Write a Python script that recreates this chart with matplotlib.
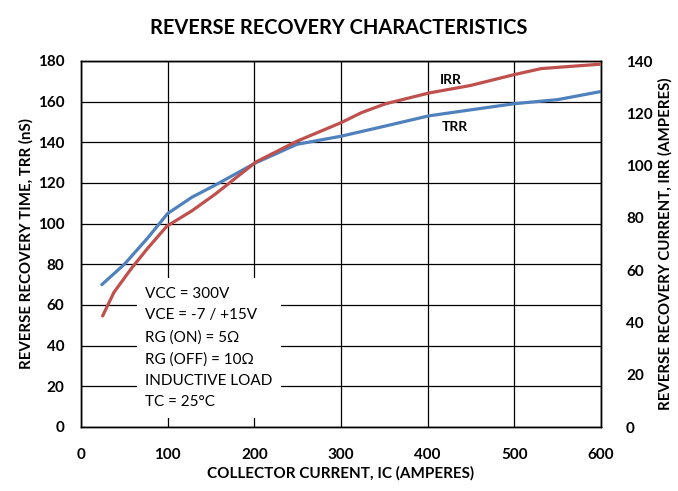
"""Reverse recovery characteristics: TRR and IRR against collector current."""
import matplotlib.pyplot as plt

plt.rcParams['font.family'] = ['Lato', 'DejaVu Sans']

# TRR curve (left axis, nS)
ic_trr = [24, 50, 77, 100, 128, 155, 202, 249, 300, 351, 401, 450, 500, 550, 600]
trr = [70, 80, 93, 105, 113, 119, 130, 139, 143, 148, 153, 156, 159, 161, 165]

# IRR curve (right axis, amperes)
ic_irr = [25, 38, 58, 77, 99, 128, 155, 202, 249, 300, 324, 351, 402, 449,
          500, 531, 600]
irr = [42.5, 51.5, 60.6, 68.4, 76.8, 82.7, 89.1, 101.4, 109.3, 116.4, 120.3,
       123.6, 127.8, 130.6, 134.8, 137.1, 138.8]

x_ticks = [0, 100, 200, 300, 400, 500, 600]
left_ticks = list(range(0, 181, 20))
right_ticks = list(range(0, 141, 20))

conditions = ['VCC = 300V', 'VCE = -7 / +15V', 'RG (ON) = 5\u03a9',
              'RG (OFF) = 10\u03a9', 'INDUCTIVE LOAD', 'TC = 25\u00b0C']

blue = '#4F81BD'
red = '#C0504D'

fig = plt.figure(figsize=(6.78, 4.91), dpi=100)
ax = fig.add_axes([81 / 678, 1 - 427 / 491, 520 / 678, 366 / 491])
ax2 = ax.twinx()

ax.plot(ic_trr, trr, color=blue, lw=2.3, solid_capstyle='round', zorder=3)
ax2.plot(ic_irr, irr, color=red, lw=2.3, solid_capstyle='round', zorder=3)

ax.set_xlim(0, 600)
ax.set_ylim(0, 180)
ax2.set_ylim(0, 140)
ax.set_xticks(x_ticks)
ax.set_yticks(left_ticks)
ax2.set_yticks(right_ticks)
ax.grid(True, color='black', lw=0.9)
ax.set_axisbelow(True)
ax.tick_params(axis='x', length=0, pad=15)
ax.tick_params(axis='y', length=0, pad=12)
ax2.tick_params(length=0, pad=18)
for lab in ax.get_xticklabels() + ax.get_yticklabels() + ax2.get_yticklabels():
    lab.set_fontweight('bold')
    lab.set_fontsize(11)
for ax_ in (ax, ax2):
    for sp in ax_.spines.values():
        sp.set_color('black')
        sp.set_linewidth(1)

ax.set_xlabel('COLLECTOR CURRENT, IC (AMPERES)', fontsize=11,
              fontweight='bold', labelpad=3)
ax.set_ylabel('REVERSE RECOVERY TIME, TRR (nS)', fontsize=10.8,
              fontweight='bold', labelpad=3)
ax2.set_ylabel('REVERSE RECOVERY CURRENT, IRR (AMPERES)', fontsize=10.8,
               fontweight='bold', labelpad=4)

fig.text(0.5, 0.943, 'REVERSE RECOVERY CHARACTERISTICS', ha='center',
         va='center', fontsize=14.4, fontweight='bold')

ax.text(0.123, 0.383, '\n'.join(conditions), transform=ax.transAxes,
        ha='left', va='top', fontsize=11, linespacing=1.68, zorder=2,
        bbox=dict(facecolor='white', edgecolor='none', pad=6))

ax.text(0.69, 0.947, 'IRR', transform=ax.transAxes, fontsize=10,
        fontweight='bold', va='center')
ax.text(0.694, 0.82, 'TRR', transform=ax.transAxes, fontsize=10,
        fontweight='bold', va='center')

fig.savefig('out.png', dpi=100)
